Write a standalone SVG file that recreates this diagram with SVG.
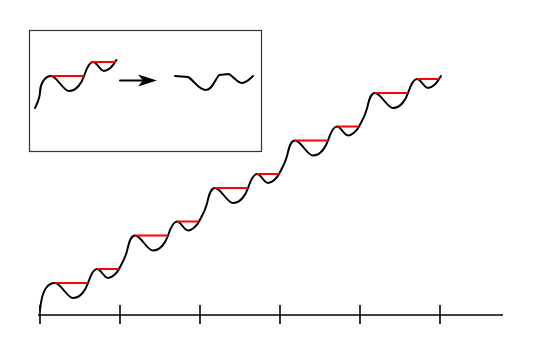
<svg xmlns="http://www.w3.org/2000/svg" width="545" height="364" viewBox="0 0 545 364">
<style>
.curve{fill:none;stroke:#000;stroke-width:2;stroke-linecap:round;stroke-linejoin:round}
.lvl{fill:none;stroke:#ff0000;stroke-width:2}
.axis{fill:none;stroke:#000;stroke-width:1.6}
.box{fill:none;stroke:#333;stroke-width:1.2}
</style>
<rect width="545" height="364" fill="#fff"/>
<g id="inset">
<rect class="box" x="29.5" y="30.5" width="232" height="121"/>
<path class="curve" d="M35,108 C38,102 40,98 40,92 C40,84 45,76 51,76 c6,0 12,15 18,15 c8,0 13,-9 15,-15 c2,-6 5,-14 9,-14 c4,0 7,9 11,9 c4,0 9,-5 11,-9 c0.5,-1 1,-1.5 1.5,-2"/>
<line class="lvl" x1="51" y1="76" x2="84" y2="76"/>
<line class="lvl" x1="91" y1="62" x2="116" y2="62"/>
<line class="curve" x1="120" y1="80.5" x2="146" y2="80.5"/>
<polygon points="157,80.5 138,74.5 143,80.5 138,86.5" fill="#000"/>
<path class="curve" d="M175,76 L188,77 C194,80 198,90 206,90 C212,90 215,80 219,75 L229,74 C234,77 238,83 242,83 C246,83 250,79 253,76"/>
</g>
<g id="staircase">
<path class="curve" d="M40,310 C41,300 43,292 46,288 C48.5,284.5 51,283 55,283
c6,0 12,15 18,15 c8,0 13,-9 15,-15 c2,-6 5,-14 9,-14 c4,0 7,9 11,9 c4,0 9,-5 11,-9 c3,-6 6,-10 8,-18 c1.5,-6 3,-15.5 8,-15.5
c6,0 12,15 18,15 c8,0 13,-9 15,-15 c2,-6 5,-14 9,-14 c4,0 7,9 11,9 c4,0 9,-5 11,-9 c3,-6 6,-10 8,-18 c1.5,-6 3,-15.5 8,-15.5
c6,0 12,15 18,15 c8,0 13,-9 15,-15 c2,-6 5,-14 9,-14 c4,0 7,9 11,9 c4,0 9,-5 11,-9 c3,-6 6,-10 8,-18 c1.5,-6 3,-15.5 8,-15.5
c6,0 12,15 18,15 c8,0 13,-9 15,-15 c2,-6 5,-14 9,-14 c4,0 7,9 11,9 c4,0 9,-5 11,-9 c3,-6 6,-10 8,-18 c1.5,-6 3,-15.5 8,-15.5
c6,0 12,15 18,15 c8,0 13,-9 15,-15 c2,-6 5,-14 9,-14 c4,0 7,9 11,9 c4,0 9,-5 11,-9 c0.7,-1 1.4,-2 2,-3"/>
<g class="lvl">
<line x1="55" y1="283" x2="88" y2="283"/>
<line x1="97" y1="269" x2="119" y2="269"/>
<line x1="135" y1="235.5" x2="168" y2="235.5"/>
<line x1="177" y1="221.5" x2="199" y2="221.5"/>
<line x1="215" y1="188" x2="248" y2="188"/>
<line x1="257" y1="174" x2="279" y2="174"/>
<line x1="295" y1="140.5" x2="328" y2="140.5"/>
<line x1="337" y1="126.5" x2="359" y2="126.5"/>
<line x1="375" y1="93" x2="408" y2="93"/>
<line x1="417" y1="79" x2="439" y2="79"/>
</g>
</g>
<g id="axis">
<line class="axis" x1="38" y1="315" x2="503" y2="315"/>
<g class="axis">
<line x1="40" y1="305" x2="40" y2="324"/>
<line x1="120" y1="305" x2="120" y2="324"/>
<line x1="200" y1="305" x2="200" y2="324"/>
<line x1="280" y1="305" x2="280" y2="324"/>
<line x1="360" y1="305" x2="360" y2="324"/>
<line x1="440" y1="305" x2="440" y2="324"/>
</g>
</g>
</svg>
